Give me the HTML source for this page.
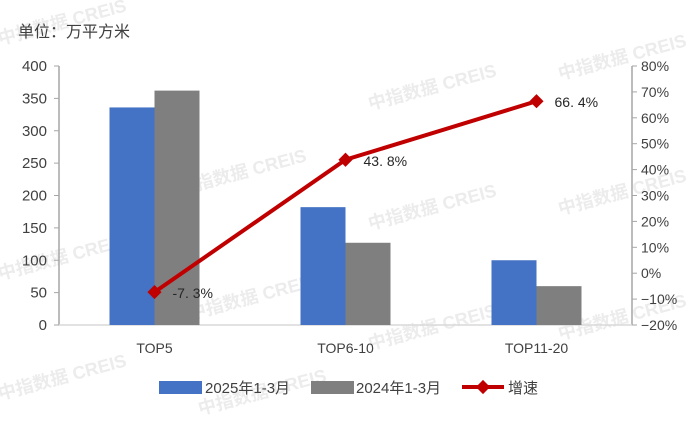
<!DOCTYPE html>
<html><head><meta charset="utf-8"><style>
body{margin:0;background:#fff;font-family:"Liberation Sans","Noto Sans CJK SC",sans-serif;}
svg text{font-family:"Liberation Sans","Noto Sans CJK SC",sans-serif;}
</style></head><body>
<svg id="c" width="697" height="416" xmlns="http://www.w3.org/2000/svg">
</svg>
<script>
const categories=["TOP5","TOP6-10","TOP11-20"];
const series2025=[336,182,100];
const series2024=[362,127,60];
const growth=[-7.3,43.8,66.4];
const growthLabels=["-7.3%","43.8%","66.4%"];
const leftTicks=[0,50,100,150,200,250,300,350,400];
const rightTicks=[-20,-10,0,10,20,30,40,50,60,70,80];
const svg=document.getElementById('c');const NS='http://www.w3.org/2000/svg';
const X0=59,X1=632,Y0=325,Y1=66;
const band=(X1-X0)/categories.length;
const yL=v=>Y0-(v/400)*(Y0-Y1);
const yR=v=>Y0-((v+20)/100)*(Y0-Y1);
function mk(t,a,txt){const e=document.createElementNS(NS,t);for(const k in a)e.setAttribute(k,a[k]);if(txt!==undefined)e.textContent=txt;svg.appendChild(e);return e;}
// watermarks
[[0,45],[370,110],[560,80],[180,195],[370,230],[560,215],[0,280],[190,320],[370,350],[560,340],[0,400],[200,415]].forEach(p=>{
const w=mk('text',{x:p[0],y:p[1],'font-size':18,'font-weight':'bold',fill:'#ececec',transform:`rotate(-15 ${p[0]} ${p[1]})`},'中指数据 CREIS');
});
let u=mk('text',{x:18,y:37,'font-size':16,fill:'#404040'},'单位：万平方米');

// axes
let a=mk('line',{x1:X0,y1:Y1,x2:X0,y2:Y0,stroke:'#a6a6a6','stroke-width':1.5});
a=mk('line',{x1:X1,y1:Y1,x2:X1,y2:Y0,stroke:'#a6a6a6','stroke-width':1.5});
a=mk('line',{x1:X0,y1:Y0,x2:X1,y2:Y0,stroke:'#d9d9d9','stroke-width':1.5});
leftTicks.forEach(v=>{const y=yL(v);
let t=mk('line',{x1:X0-5,y1:y,x2:X0,y2:y,stroke:'#a6a6a6'});
t=mk('text',{x:X0-12,y:y+5,'font-size':15,fill:'#404040','text-anchor':'end'},v);});
rightTicks.forEach(v=>{const y=yR(v);
let t=mk('line',{x1:X1,y1:y,x2:X1+5,y2:y,stroke:'#a6a6a6'});
t=mk('text',{x:X1+9,y:y+5,'font-size':14,fill:'#404040'},(v<0?'−'+(-v):v)+'%');});
const bw=45;
categories.forEach((c,i)=>{const cx=X0+band*(i+0.5);
let r=mk('rect',{x:cx-bw,y:yL(series2025[i]),width:bw,height:Y0-yL(series2025[i]),fill:'#4472c4'});
r=mk('rect',{x:cx,y:yL(series2024[i]),width:bw,height:Y0-yL(series2024[i]),fill:'#7f7f7f'});
r=mk('text',{x:cx,y:Y0+28,'font-size':14,fill:'#404040','text-anchor':'middle'},c);});
const pts=growth.map((g,i)=>[X0+band*(i+0.5),yR(g)]);
let pl=mk('polyline',{points:pts.map(p=>p.join(',')).join(' '),fill:'none',stroke:'#c00000','stroke-width':4});
pts.forEach((p,i)=>{let m=mk('rect',{x:p[0]-5,y:p[1]-5,width:10,height:10,fill:'#c00000',transform:`rotate(45 ${p[0]} ${p[1]})`});
m=mk('text',{x:p[0]+18,y:p[1]+6,'font-size':14,fill:'#262626'},growthLabels[i].replace('.','. '));});
// legend
let l=mk('rect',{x:159,y:381,width:43,height:13,fill:'#4472c4'});
l=mk('text',{x:205,y:393,'font-size':15,fill:'#404040'},'2025年1-3月');
l=mk('rect',{x:311,y:381,width:43,height:13,fill:'#7f7f7f'});
l=mk('text',{x:356,y:393,'font-size':15,fill:'#404040'},'2024年1-3月');
l=mk('line',{x1:462,y1:387,x2:504,y2:387,stroke:'#c00000','stroke-width':4});
l=mk('rect',{x:478,y:382,width:10,height:10,fill:'#c00000',transform:'rotate(45 483 387)'});
l=mk('text',{x:508,y:393,'font-size':15,fill:'#404040'},'增速');
</script>
</body></html>
